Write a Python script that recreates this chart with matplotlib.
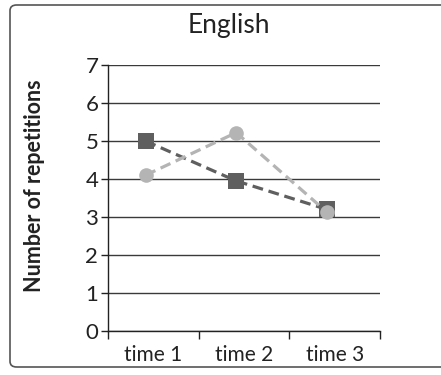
import matplotlib
matplotlib.use("Agg")
import matplotlib.pyplot as plt
from matplotlib.patches import FancyBboxPatch

plt.rcParams['font.family'] = ['Lato', 'DejaVu Sans']

categories = ['time 1', 'time 2', 'time 3']
series_dark = [5.0, 3.95, 3.2]
series_light = [4.1, 5.22, 3.13]
yticks = [0, 1, 2, 3, 4, 5, 6, 7]

fig = plt.figure(figsize=(4.41, 3.75), dpi=100)

# rounded outer frame
frame = FancyBboxPatch((10 / 441, 8 / 375), 440 / 441, 362 / 375,
                       boxstyle="round,pad=0,rounding_size=0.015",
                       transform=fig.transFigure, fill=False,
                       edgecolor='#555555', linewidth=1.2, clip_on=False)
fig.patches.append(frame)

ax = fig.add_axes([108 / 441, 1 - 331 / 375, 272 / 441, 266 / 375])

x = range(len(categories))
shift = -0.086
xs = [i + shift for i in x]

ax.plot(xs, series_light, color='#b4b4b4', linestyle=(0, (3.4, 1.8)), linewidth=2.3,
        marker='o', markersize=10.5, markeredgewidth=0, zorder=3)
ax.plot(xs, series_dark, color='#5f5f5f', linestyle=(0, (3.4, 1.8)), linewidth=2.3,
        marker='s', markersize=11.5, markeredgewidth=0, zorder=2)

ax.set_xlim(-0.5, 2.5)
ax.set_ylim(0, 7)
ax.set_yticks(yticks)
ax.set_xticks(x)
ax.set_xticklabels(categories, fontsize=15, color='#222222')
ax.set_xticks([-0.5, 0.5, 1.5, 2.5], minor=True)
ax.tick_params(axis='x', which='major', length=0, pad=10)
ax.tick_params(axis='x', which='minor', length=6, width=1, color='#222222', direction='out')
ax.tick_params(axis='y', length=5, width=1, color='#222222', labelsize=16,
               labelcolor='#222222', pad=2)

ax.grid(axis='y', color='#3a3a3a', linewidth=1)
ax.set_axisbelow(True)
for s in ['top', 'right']:
    ax.spines[s].set_visible(False)
for s in ['left', 'bottom']:
    ax.spines[s].set_color('#222222')
    ax.spines[s].set_linewidth(1)

fig.text(35 / 441, 1 - 186 / 375, 'Number of repetitions', fontsize=15.5,
         fontweight='bold', color='#222222', rotation=90, ha='center', va='center')
fig.text(229 / 441, 1 - 26 / 375, 'English', fontsize=19, color='#222222',
         ha='center', va='center')

fig.savefig('out.png', dpi=100)
